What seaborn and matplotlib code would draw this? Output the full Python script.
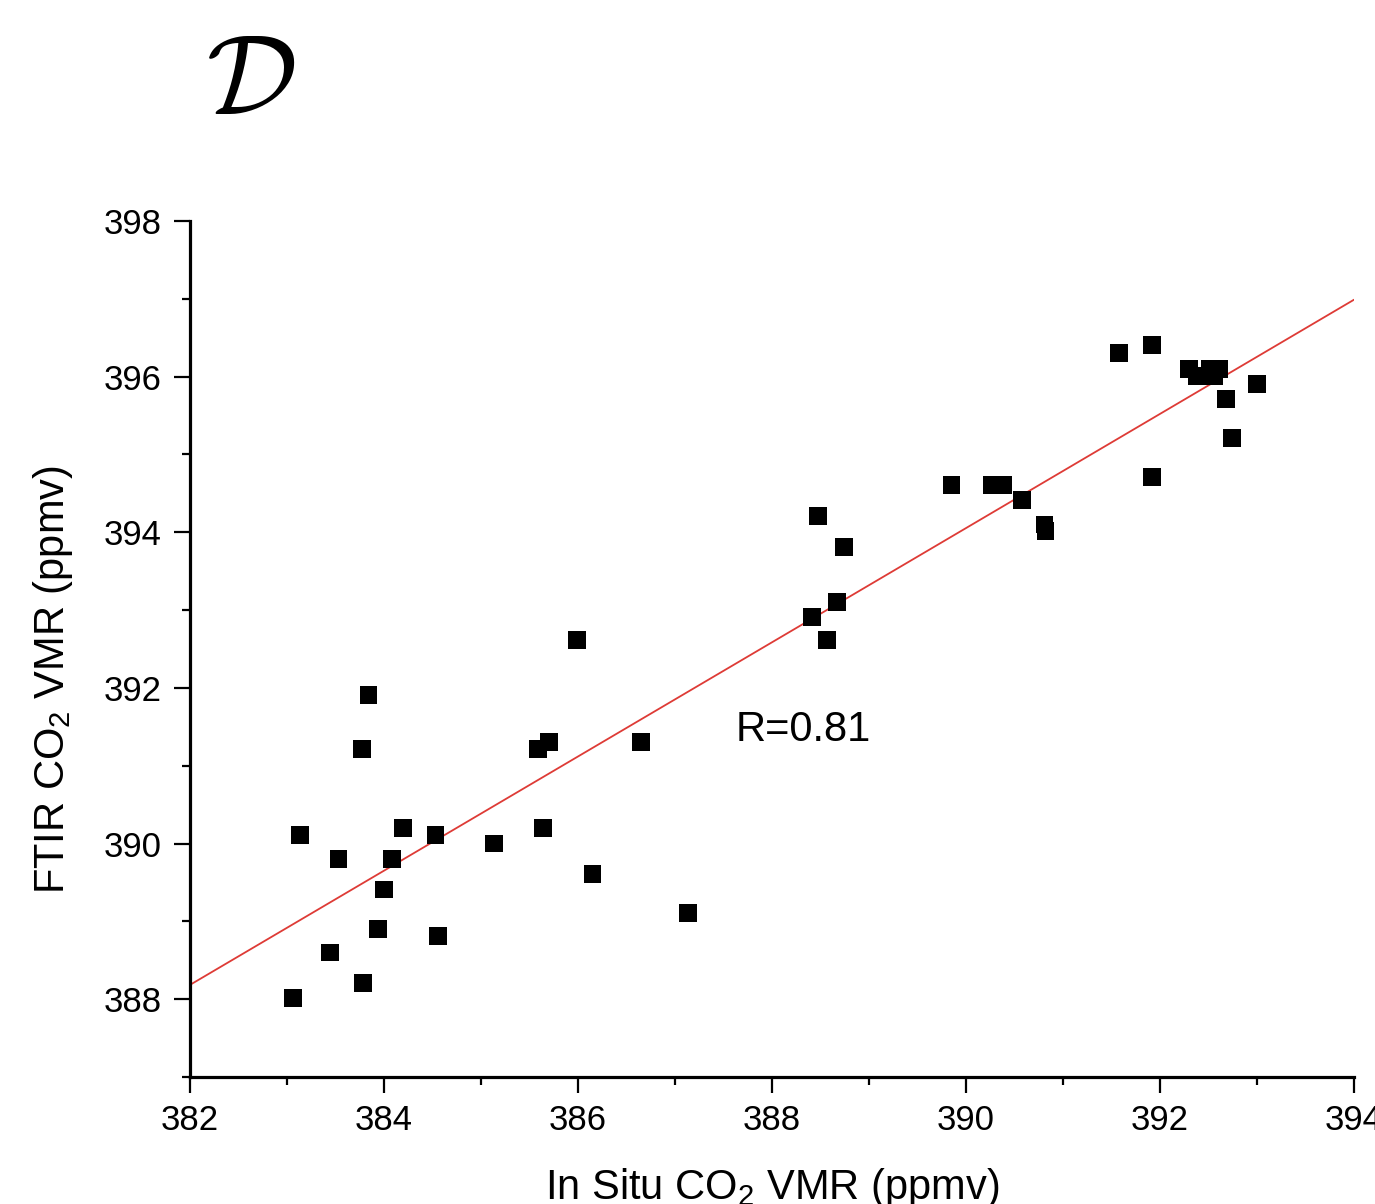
import numpy as np
import pandas as pd
import matplotlib
matplotlib.use("Agg")
import matplotlib.pyplot as plt
from matplotlib.ticker import MultipleLocator
import seaborn as sns

# In situ vs FTIR CO2 volume mixing ratios (ppmv)
in_situ = [391.58, 391.92, 392.30, 392.38, 392.52, 392.56, 392.61, 392.68, 393.00,
           392.74, 391.92, 389.85, 390.27, 390.38, 390.58, 390.81, 390.82, 388.47,
           388.74, 388.67, 388.41, 388.57, 385.99, 383.84, 383.77, 385.59, 385.70,
           386.65, 383.13, 384.20, 384.53, 385.64, 385.13, 383.53, 384.08, 384.00,
           386.15, 383.94, 384.56, 383.44, 387.13, 383.78, 383.06]
ftir = [396.30, 396.41, 396.10, 396.01, 396.10, 396.00, 396.10, 395.71, 395.90,
        395.21, 394.71, 394.61, 394.61, 394.61, 394.41, 394.10, 394.02, 394.21,
        393.81, 393.10, 392.91, 392.61, 392.61, 391.91, 391.21, 391.21, 391.30,
        391.30, 390.11, 390.20, 390.11, 390.20, 390.00, 389.80, 389.80, 389.41,
        389.61, 388.90, 388.81, 388.60, 389.11, 388.21, 388.01]
r_label = "R=0.81"

df = pd.DataFrame({"in_situ": in_situ, "ftir": ftir})

sns.set_theme(style="ticks")
plt.rcParams["font.family"] = ["Liberation Sans", "DejaVu Sans"]
plt.rcParams["mathtext.fontset"] = "custom"
plt.rcParams["mathtext.rm"] = "Liberation Sans"
plt.rcParams["mathtext.it"] = "Liberation Sans:italic"
plt.rcParams["text.color"] = "black"
plt.rcParams["axes.labelcolor"] = "black"
plt.rcParams["xtick.color"] = "black"
plt.rcParams["ytick.color"] = "black"

fig = plt.figure(figsize=(13.75, 12.04), dpi=100)
ax = fig.add_axes([0.1382, 0.1055, 0.8465, 0.711])

ax.set_xlim(382, 394)
ax.set_ylim(387, 398)

sns.scatterplot(data=df, x="in_situ", y="ftir", marker="s", s=165, color="black",
                edgecolor="none", ax=ax, zorder=3)
sns.regplot(data=df, x="in_situ", y="ftir", scatter=False, ci=None, truncate=False,
            line_kws={"color": "#de3b36", "lw": 1.3}, ax=ax)

ax.set_xlim(382, 394)
ax.set_ylim(387, 398)

sns.despine(ax=ax)
for side in ("left", "bottom"):
    ax.spines[side].set_linewidth(2.3)
    ax.spines[side].set_color("black")

ax.xaxis.set_major_locator(MultipleLocator(2))
ax.xaxis.set_minor_locator(MultipleLocator(1))
ax.yaxis.set_major_locator(MultipleLocator(2))
ax.yaxis.set_minor_locator(MultipleLocator(1))
ax.tick_params(which="major", direction="out", length=11.5, width=1.6, labelsize=25,
               labelcolor="black", color="black", pad=8)
ax.tick_params(which="minor", direction="out", length=6, width=1.6, color="black")
ax.tick_params(axis="y", which="major", pad=9)

ax.set_xlabel("In Situ CO$_2$ VMR (ppmv)", fontsize=30, labelpad=21)
ax.set_ylabel("FTIR CO$_2$ VMR (ppmv)", fontsize=30)
ax.yaxis.set_label_coords(-0.099, 0.464)

ax.text(387.62, 391.46, r_label, fontsize=30, ha="left", va="center", color="black")

fig.text(0.182, 0.929, r"$\mathcal{D}$", math_fontfamily="cm", fontsize=82,
         ha="center", va="center", color="black")

fig.savefig("out.png", dpi=100)
